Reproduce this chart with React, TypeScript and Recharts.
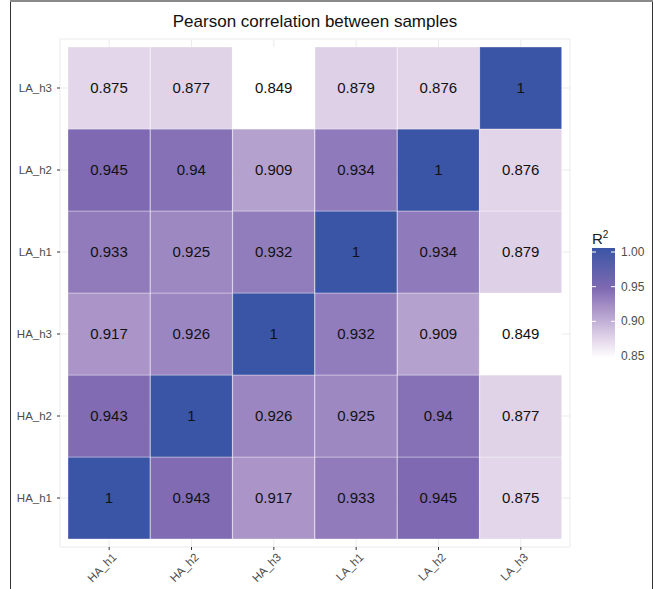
import React from "react";
import { BarChart, Bar, Cell, XAxis, YAxis, CartesianGrid, LabelList, Legend } from "recharts";

// sample names (x left->right, y bottom->top)
const SAMPLES = ["HA_h1", "HA_h2", "HA_h3", "LA_h1", "LA_h2", "LA_h3"];

// correlation rows, one per y sample, values across x samples
const HA_h1_ROW = [1, 0.943, 0.917, 0.933, 0.945, 0.875];
const HA_h2_ROW = [0.943, 1, 0.926, 0.925, 0.94, 0.877];
const HA_h3_ROW = [0.917, 0.926, 1, 0.932, 0.909, 0.849];
const LA_h1_ROW = [0.933, 0.925, 0.932, 1, 0.934, 0.879];
const LA_h2_ROW = [0.945, 0.94, 0.909, 0.934, 1, 0.876];
const LA_h3_ROW = [0.875, 0.877, 0.849, 0.879, 0.876, 1];
const ROWS = [HA_h1_ROW, HA_h2_ROW, HA_h3_ROW, LA_h1_ROW, LA_h2_ROW, LA_h3_ROW];

// colour scale
const STOP_VALUES = [0.849, 0.875, 0.917, 0.945, 1];
const STOP_COLORS = ["#FFFFFF", "#E3D6EA", "#AA94C8", "#7E69B2", "#3A55A5"];
const LEGEND_TICKS = [1.0, 0.95, 0.9, 0.85];

const FONT = "'Liberation Sans', Arial, sans-serif";

function hexToRgb(h: string) {
  const n = parseInt(h.slice(1), 16);
  return [(n >> 16) & 255, (n >> 8) & 255, n & 255];
}

function colorFor(v: number) {
  if (v <= STOP_VALUES[0]) return STOP_COLORS[0];
  for (let i = 1; i < STOP_VALUES.length; i++) {
    if (v <= STOP_VALUES[i]) {
      const t = (v - STOP_VALUES[i - 1]) / (STOP_VALUES[i] - STOP_VALUES[i - 1]);
      const a = hexToRgb(STOP_COLORS[i - 1]);
      const b = hexToRgb(STOP_COLORS[i]);
      const c = a.map((x, k) => Math.round(x + (b[k] - x) * t));
      return `rgb(${c[0]},${c[1]},${c[2]})`;
    }
  }
  return STOP_COLORS[STOP_COLORS.length - 1];
}

// one entry per x column; each y row is a stacked unit segment
const data = SAMPLES.map((name, col) => {
  const d: any = { name };
  SAMPLES.forEach((rowName, row) => {
    d[`s_${rowName}`] = 1;
    d[`v_${rowName}`] = ROWS[row][col];
  });
  return d;
});

const XTick = (props: any) => {
  const { x, y, payload } = props;
  const ax = x + 8;
  const ay = y + 6;
  return (
    <text
      x={ax}
      y={ay}
      transform={`rotate(-45, ${ax}, ${ay})`}
      textAnchor="end"
      fontSize={11.5}
      fill="#4D4D4D"
      fontFamily={FONT}
    >
      {payload.value}
    </text>
  );
};

const ColorBar = () => {
  const top = 248;
  const bottom = 358;
  const vMax = 1;
  const vMin = 0.849;
  const yOf = (v: number) => 252 + ((1 - v) / 0.15) * 104;
  return (
    <svg width={70} height={160} style={{ position: "absolute", left: 585, top: 222, overflow: "visible" }}>
      <defs>
        <linearGradient id="r2grad" x1="0" y1="0" x2="0" y2="1">
          {STOP_VALUES.slice().reverse().map((v, i) => (
            <stop
              key={i}
              offset={`${((vMax - v) / (vMax - vMin)) * 100}%`}
              stopColor={STOP_COLORS[STOP_VALUES.length - 1 - i]}
            />
          ))}
        </linearGradient>
      </defs>
      <g transform="translate(-585,-222)">
        <text x={592} y={244} fontSize={15} fill="#1a1a1a" fontFamily={FONT}>
          R<tspan dy={-6} fontSize={10}>2</tspan>
        </text>
        <rect x={592} y={top} width={23} height={bottom - top} fill="url(#r2grad)" />
        {LEGEND_TICKS.map((t) => (
          <g key={t}>
            <line x1={592} x2={596} y1={yOf(t)} y2={yOf(t)} stroke="#fff" strokeWidth={1} />
            <line x1={611} x2={615} y1={yOf(t)} y2={yOf(t)} stroke="#fff" strokeWidth={1} />
            <text x={621} y={yOf(t) + 4} fontSize={12} fill="#4D4D4D" fontFamily={FONT}>
              {t.toFixed(2)}
            </text>
          </g>
        ))}
      </g>
    </svg>
  );
};

export default function App() {
  return (
    <div style={{ position: "absolute", left: 0, top: 0, width: 653, height: 589, background: "#fff", fontFamily: FONT }}>
      {/* frame */}
      <div style={{ position: "absolute", left: 10, top: 0, right: 0, height: 2, background: "#8a8a8a" }} />
      <div style={{ position: "absolute", left: 10, top: 2, width: 1, bottom: 0, background: "#333" }} />
      <div style={{ position: "absolute", right: 0, top: 2, width: 1, bottom: 0, background: "#333" }} />

      <div
        style={{
          position: "absolute",
          left: 0,
          width: 630,
          top: 12,
          lineHeight: "20px",
          textAlign: "center",
          fontSize: 17,
          color: "#111",
        }}
      >
        Pearson correlation between samples
      </div>

      <div style={{ position: "absolute", left: 0, top: 0 }}>
        <BarChart
          width={653}
          height={589}
          data={data}
          margin={{ top: 39, right: 83, bottom: 0, left: 0 }}
          barCategoryGap={0}
          barGap={0}
        >
          <CartesianGrid stroke="#EBEBEB" strokeWidth={1} />
          <XAxis
            dataKey="name"
            type="category"
            height={42}
            padding={{ left: 8, right: 8 }}
            axisLine={false}
            tickLine={{ stroke: "#333" }}
            tickSize={3}
            tick={<XTick />}
            interval={0}
          />
          <YAxis
            type="number"
            domain={[0, 6]}
            ticks={[0.5, 1.5, 2.5, 3.5, 4.5, 5.5]}
            tickFormatter={(v: number) => SAMPLES[Math.floor(v)]}
            width={60}
            padding={{ top: 8, bottom: 8 }}
            axisLine={false}
            tickLine={{ stroke: "#333" }}
            tickSize={3}
            tickMargin={5}
            tick={{ fontSize: 11.5, fill: "#4D4D4D", fontFamily: FONT }}
            allowDataOverflow
          />
          {SAMPLES.map((rowName) => (
            <Bar key={rowName} dataKey={`s_${rowName}`} stackId="a" isAnimationActive={false}>
              {data.map((d: any, i: number) => (
                <Cell
                  key={i}
                  fill={colorFor(d[`v_${rowName}`])}
                  stroke="#ffffff"
                  strokeOpacity={0.35}
                  strokeWidth={1}
                />
              ))}
              <LabelList
                dataKey={`v_${rowName}`}
                position="center"
                fill="#111"
                fontSize={15}
                fontFamily={FONT}
                formatter={(v: any) => String(v)}
              />
            </Bar>
          ))}
          <Legend
            layout="horizontal"
            verticalAlign="middle"
            align="center"
            wrapperStyle={{ position: "absolute", left: 0, top: 0, width: 0, height: 0 }}
            content={() => <ColorBar />}
          />
        </BarChart>
      </div>
    </div>
  );
}
